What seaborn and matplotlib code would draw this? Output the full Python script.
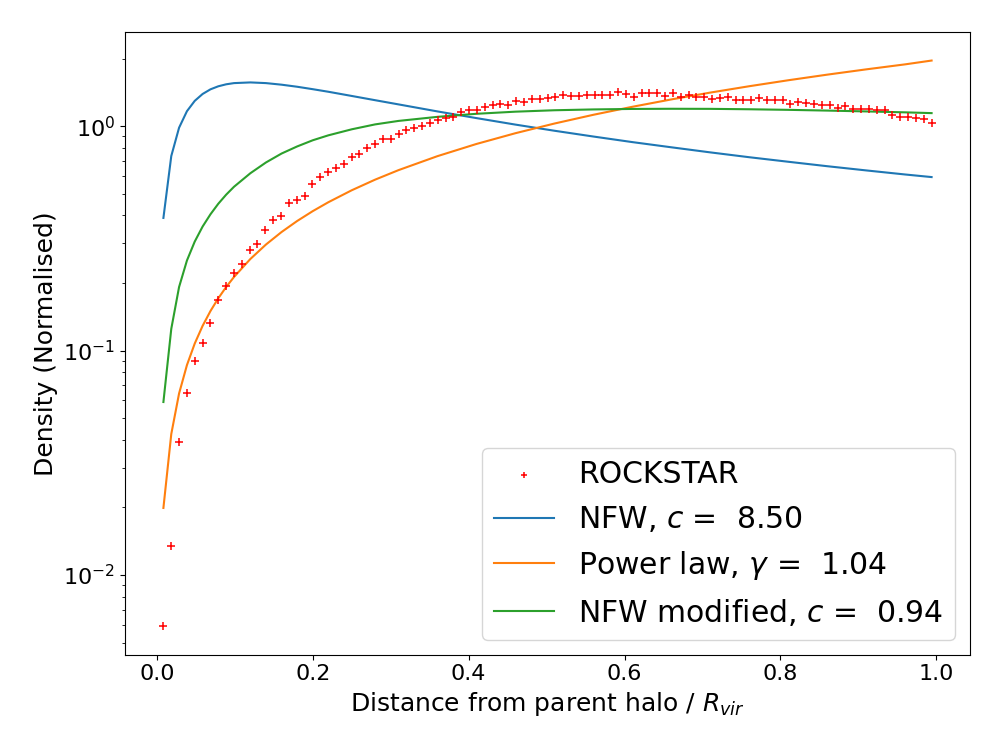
import numpy as np
import pandas as pd
import matplotlib
matplotlib.use('Agg')
import matplotlib.pyplot as plt
import seaborn as sns

# radial bin centres (r / R_vir), 99 evenly spaced bins
r_bins = np.linspace(0.0084, 0.994, 99)

# ROCKSTAR subhalo radial density (normalised)
rockstar = [
    0.0059, 0.0134, 0.039, 0.065, 0.090, 0.108, 0.133, 0.168, 0.193, 0.221,
    0.244, 0.281, 0.299, 0.345, 0.382, 0.396, 0.454, 0.468, 0.490, 0.551,
    0.594, 0.625, 0.649, 0.681, 0.729, 0.749, 0.800, 0.830, 0.873, 0.873,
    0.919, 0.957, 0.985, 1.000, 1.034, 1.066, 1.085, 1.093, 1.162, 1.186,
    1.186, 1.218, 1.248, 1.261, 1.239, 1.300, 1.282, 1.321, 1.327, 1.335,
    1.349, 1.372, 1.359, 1.359, 1.382, 1.382, 1.382, 1.382, 1.419, 1.397,
    1.349, 1.405, 1.405, 1.405, 1.359, 1.405, 1.349, 1.372, 1.349, 1.349,
    1.321, 1.335, 1.349, 1.313, 1.313, 1.304, 1.335, 1.313, 1.304, 1.304,
    1.261, 1.278, 1.269, 1.261, 1.248, 1.239, 1.205, 1.235, 1.198, 1.198,
    1.198, 1.186, 1.177, 1.119, 1.100, 1.100, 1.089, 1.071, 1.034,
]

# fitted model curves, sampled on a coarser grid
r_model = [0.0084, 0.0185, 0.0285, 0.0386, 0.0486, 0.0587, 0.0688, 0.0788,
           0.0889, 0.099, 0.12, 0.14, 0.16, 0.18, 0.20, 0.22, 0.25, 0.28,
           0.31, 0.36, 0.41, 0.46, 0.51, 0.56, 0.61, 0.66, 0.71, 0.76, 0.81,
           0.86, 0.91, 0.96, 0.994]

nfw = [0.390, 0.736, 0.984, 1.166, 1.296, 1.391, 1.459, 1.505, 1.536, 1.555,
       1.566, 1.555, 1.530, 1.498, 1.461, 1.423, 1.363, 1.305, 1.250, 1.163,
       1.086, 1.016, 0.954, 0.899, 0.849, 0.805, 0.764, 0.727, 0.694, 0.663,
       0.635, 0.609, 0.593]

power_law = [0.0199, 0.0425, 0.0644, 0.0862, 0.1075, 0.1289, 0.1501, 0.1710,
             0.1920, 0.2128, 0.2560, 0.2969, 0.3375, 0.3779, 0.4181, 0.4581,
             0.5179, 0.5775, 0.6367, 0.7350, 0.8328, 0.9300, 1.0269, 1.1234,
             1.2195, 1.3153, 1.4108, 1.5060, 1.6010, 1.6958, 1.7903, 1.8847,
             1.9600]

nfw_mod = [0.059, 0.125, 0.192, 0.252, 0.306, 0.357, 0.405, 0.451, 0.495,
           0.537, 0.617, 0.689, 0.755, 0.812, 0.865, 0.910, 0.968, 1.018,
           1.055, 1.100, 1.135, 1.160, 1.177, 1.187, 1.193, 1.195, 1.194,
           1.189, 1.182, 1.173, 1.163, 1.152, 1.143]

c_nfw = 8.50
gamma_pl = 1.04
c_mod = 0.94

df_data = pd.DataFrame({'r': r_bins, 'density': rockstar})
df_model = pd.DataFrame({'r': r_model, 'NFW': nfw, 'Power': power_law,
                         'Mod': nfw_mod})

fig, ax = plt.subplots(figsize=(10, 7.5), dpi=100)
fig.subplots_adjust(left=0.125, right=0.97, bottom=0.127, top=0.957)

pal = sns.color_palette('tab10')

sns.scatterplot(data=df_data, x='r', y='density', marker='+', color='red',
                s=36, linewidth=1.1, ax=ax, label='ROCKSTAR', zorder=3)
sns.lineplot(data=df_model, x='r', y='NFW', color=pal[0], lw=1.5, ax=ax,
             label=r'NFW, $c$ = %5.2f' % c_nfw)
sns.lineplot(data=df_model, x='r', y='Power', color=pal[1], lw=1.5, ax=ax,
             label=r'Power law, $\gamma$ = %5.2f' % gamma_pl)
sns.lineplot(data=df_model, x='r', y='Mod', color=pal[2], lw=1.5, ax=ax,
             label=r'NFW modified, $c$ = %5.2f' % c_mod)

ax.set_yscale('log')
ax.set_xlabel(r'Distance from parent halo / $R_{vir}$', fontsize=18)
ax.set_ylabel('Density (Normalised)', fontsize=18)
ax.tick_params(labelsize=16)

handles, labels = ax.get_legend_handles_labels()
order = [labels.index('ROCKSTAR')] + [i for i, l in enumerate(labels) if l != 'ROCKSTAR']
leg = ax.legend([handles[i] for i in order], [labels[i] for i in order],
                loc='lower right', fontsize=21.5, markerscale=0.7)

plt.savefig('out.png')
